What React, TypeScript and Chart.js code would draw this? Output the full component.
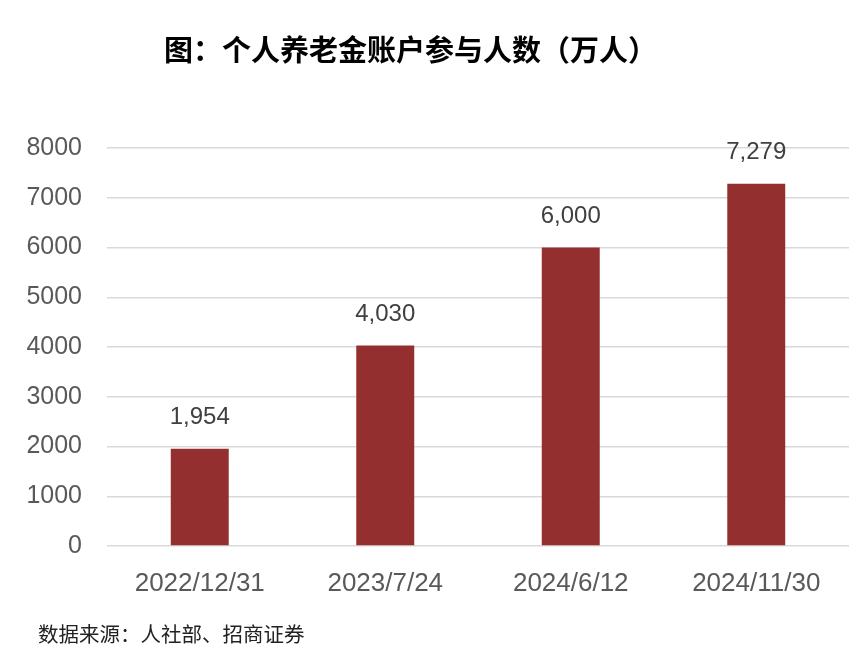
import React, { useEffect, useRef } from "react";
import { Chart, registerables } from "chart.js";

Chart.register(...registerables);

const categories = ["2022/12/31", "2023/7/24", "2024/6/12", "2024/11/30"];
const participants = [1954, 4030, 6000, 7279];
const yTicks = [0, 1000, 2000, 3000, 4000, 5000, 6000, 7000, 8000];
const titleText = "图：个人养老金账户参与人数（万人）";
const sourceText = "数据来源：人社部、招商证券";

const FONT = "'Liberation Sans', Arial, 'Noto Sans CJK SC', sans-serif";

export default function App() {
  const ref = useRef<HTMLCanvasElement>(null);
  useEffect(() => {
    const canvas = ref.current;
    if (!canvas) return;
    const textPlugin = {
      id: "texts",
      afterDraw(chart: any) {
        const ctx = chart.ctx;
        ctx.save();
        ctx.fillStyle = "#000";
        ctx.font = `bold 29px 'Noto Sans CJK SC', sans-serif`;
        ctx.textAlign = "left";
        ctx.textBaseline = "middle";
        ctx.fillText(titleText, 164, 50);
        ctx.fillStyle = "#222";
        ctx.font = `20.5px 'Noto Sans CJK SC', sans-serif`;
        ctx.textAlign = "left";
        ctx.fillText(sourceText, 38, 634);
        ctx.restore();
      },
      afterDatasetsDraw(chart: any) {
        const ctx = chart.ctx;
        const meta = chart.getDatasetMeta(0);
        ctx.save();
        ctx.fillStyle = "#404040";
        ctx.font = `24px ${FONT}`;
        ctx.textAlign = "center";
        ctx.textBaseline = "middle";
        meta.data.forEach((bar: any, i: number) => {
          ctx.fillText(participants[i].toLocaleString("en-US"), bar.x, bar.y - 31);
        });
        ctx.restore();
      },
    };
    const chart = new Chart(canvas, {
      type: "bar",
      data: {
        labels: categories,
        datasets: [
          {
            data: participants,
            backgroundColor: "#93302f",
            barPercentage: 0.625,
            categoryPercentage: 0.5,
          },
        ],
      },
      options: {
        animation: false,
        responsive: false,
        maintainAspectRatio: false,
        layout: { padding: { top: 148, right: 16, bottom: 40, left: 0 } },
        plugins: {
          legend: { display: false },
          title: { display: false },
          tooltip: { enabled: false },
        },
        scales: {
          x: {
            grid: { display: false, drawTicks: false },
            border: { display: false },
            ticks: { color: "#595959", font: { size: 26, family: FONT }, padding: 22, maxRotation: 0 },
            afterFit: (s: any) => {
              s.height = 658 - 546 - 40;
            },
          },
          y: {
            min: 0,
            max: 8000,
            afterBuildTicks: (s: any) => {
              s.ticks = yTicks.map((v) => ({ value: v }));
            },
            grid: { color: "#d9d9d9", lineWidth: 1.5, drawTicks: false },
            border: { display: false },
            ticks: {
              color: "#595959",
              font: { size: 25, family: FONT },
              padding: 25,
              callback: (v: any) => String(v),
            },
            afterFit: (s: any) => {
              s.width = 107;
            },
          },
        },
      },
      plugins: [textPlugin],
    });
    return () => chart.destroy();
  }, []);
  return (
    <div style={{ position: "fixed", left: 0, top: 0, width: 865, height: 658, background: "#fff" }}>
      <canvas ref={ref} width={865} height={658} style={{ width: 865, height: 658 }} />
    </div>
  );
}
